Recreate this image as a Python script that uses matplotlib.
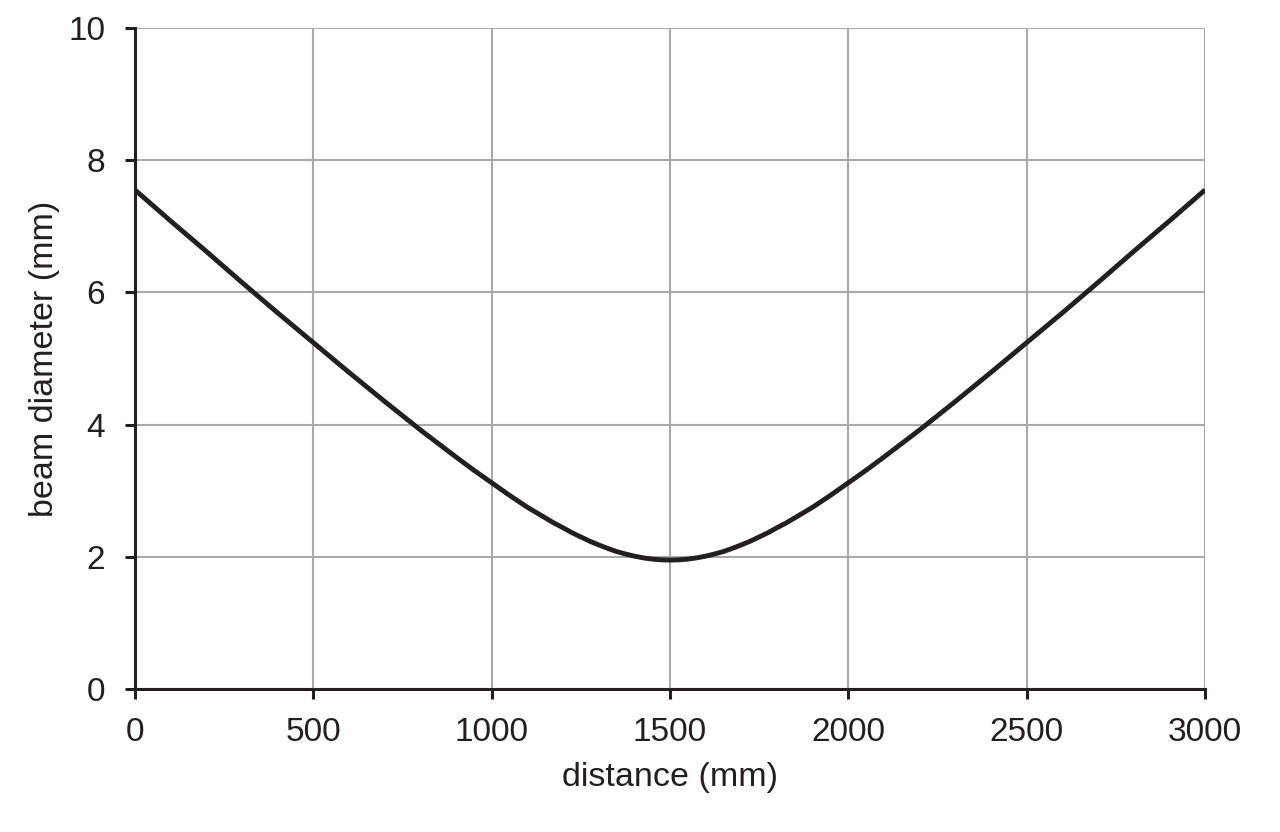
import matplotlib.pyplot as plt

plt.rcParams['font.family'] = ['Liberation Sans', 'DejaVu Sans']

# distance (mm) and beam diameter (mm)
distance = [0, 100, 200, 300, 400, 500, 600, 700, 800, 900, 950, 1000,
            1050, 1100, 1125, 1150, 1175, 1200, 1225, 1250, 1275, 1300,
            1325, 1350, 1375, 1400, 1425, 1450, 1475, 1500,
            1525, 1550, 1575, 1600, 1625, 1650, 1675, 1700, 1725, 1750,
            1775, 1800, 1825, 1850, 1875, 1900, 1950, 2000, 2050,
            2100, 2200, 2300, 2400, 2500, 2600, 2700, 2800, 2900, 3000]
diameter = [7.55, 7.08, 6.62, 6.15, 5.69, 5.24, 4.79, 4.35, 3.92, 3.51, 3.31, 3.12,
            2.93, 2.75, 2.67, 2.59, 2.51, 2.44, 2.365, 2.30, 2.236, 2.18,
            2.128, 2.08, 2.043, 2.01, 1.984, 1.965, 1.954, 1.95,
            1.954, 1.965, 1.984, 2.01, 2.043, 2.08, 2.128, 2.18, 2.236, 2.30,
            2.365, 2.44, 2.51, 2.59, 2.67, 2.75, 2.93, 3.12, 3.31,
            3.51, 3.92, 4.35, 4.79, 5.24, 5.69, 6.15, 6.62, 7.08, 7.55]

x_ticks = [0, 500, 1000, 1500, 2000, 2500, 3000]
y_ticks = [0, 2, 4, 6, 8, 10]

ink = '#231f20'
grid_col = '#a7a9ac'

fig = plt.figure(figsize=(12.8, 8.32), dpi=100)
ax = fig.add_axes([135 / 1280, 1 - 689 / 832, (1205 - 135) / 1280, (689 - 28) / 832])

ax.plot(distance, diameter, color=ink, lw=3.5, solid_capstyle='butt',
        solid_joinstyle='round', zorder=3)

ax.set_xlim(0, 3000)
ax.set_ylim(0, 10)
ax.set_xticks(x_ticks)
ax.set_yticks(y_ticks)
ax.grid(True, color=grid_col, lw=1.5)
ax.set_axisbelow(True)

for side in ['top', 'right']:
    ax.spines[side].set_visible(False)
for side in ['left', 'bottom']:
    ax.spines[side].set_color(ink)
    ax.spines[side].set_linewidth(2.2)
    ax.spines[side].set_zorder(4)

ax.tick_params(axis='both', direction='out', length=7.5, width=2.2,
               color=ink, labelcolor=ink, labelsize=24)
ax.tick_params(axis='y', pad=14)
ax.tick_params(axis='x', pad=12.5)
ax.set_xlabel('distance (mm)', fontsize=24.5, color=ink, labelpad=10)
ax.set_ylabel('beam diameter (mm)', fontsize=24.5, color=ink, labelpad=6)

fig.savefig('out.png', dpi=100)
